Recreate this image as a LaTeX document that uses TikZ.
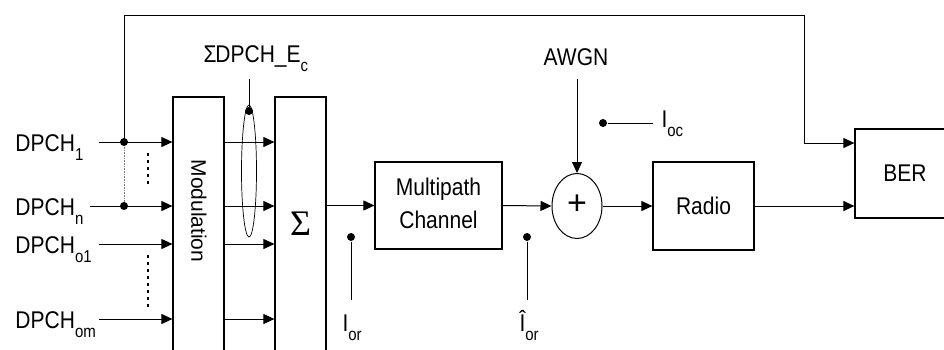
\documentclass[tikz,border=0pt]{standalone}
\usepackage{fontspec}
\setmainfont{Liberation Sans}
\newfontfamily\seriffont{Liberation Serif}
\usetikzlibrary{arrows.meta,shapes.geometric}
\newcommand\vs[1]{\scalebox{1}[1.15]{#1}}
\newcommand\lbl[2]{\vs{#1\raisebox{-8pt}{\fontsize{15}{15}\selectfont #2}}}
\begin{document}
\begin{tikzpicture}[x=1pt,y=-1pt, line width=1pt,
  box/.style={draw,line width=1.2pt,inner sep=0pt},
  arr/.style={-{Triangle[length=11pt,width=10pt]}},
  dot/.style={circle,fill,inner sep=0pt,minimum size=8pt},
  txt/.style={font=\fontsize{21}{25}\selectfont, inner sep=0pt},
  ]
\clip (0,0) rectangle (944,349);
\fill[white] (0,0) rectangle (944,349);

% blocks
\node[box, minimum width=51pt, minimum height=303pt] (mod) at (198.5,248.5) {};
\node[txt, rotate=-90] (modt) at (199,211) {Modulation};
\node[box, minimum width=51pt, minimum height=303pt] (sum) at (300.5,248.5) {};
\node[inner sep=0pt, font=\seriffont\fontsize{36}{36}\selectfont] (sigma) at (300.5,224) {Σ};
\node[box, minimum width=127pt, minimum height=87pt, font=\fontsize{21}{28.7}\selectfont] (mp) at (438.5,205.5)
  {\vs{\begin{tabular}{@{}c@{}}Multipath\\Channel\end{tabular}}};
\node[box, minimum width=101pt, minimum height=88pt, txt] (radio) at (703.5,206) {\vs{Radio}};
\node[box, minimum width=100pt, minimum height=89pt, txt] (ber) at (905,173.5) {\vs{BER}};
\node[draw, ellipse, minimum width=50pt, minimum height=65pt, inner sep=0pt] (circ) at (577,206) {};
\node[font=\fontsize{34}{34}\selectfont, inner sep=0pt] (plus) at (577,205) {+};

% input labels
\node[txt, anchor=base west] (l1) at (15,151) {\lbl{DPCH}{1}};
\node[txt, anchor=base west] (ln) at (15,215) {\lbl{DPCH}{n}};
\node[txt, anchor=base west] (lo1) at (15,253) {\lbl{DPCH}{o1}};
\node[txt, anchor=base west] (lom) at (15,328) {\lbl{DPCH}{om}};

\coordinate (in1) at (99,142);
\coordinate (inn) at (90,206);
\coordinate (ino1) at (99,244);
\coordinate (inom) at (99,319);

\foreach \c in {in1,inn,ino1,inom}{
  \draw[arr] (\c) -- (\c -| mod.west);
  \draw[arr] (mod.east |- \c) -- (sum.west |- \c);
}

% feedback
\coordinate (d1c) at (124,142);
\coordinate (fb1) at (124,15);
\coordinate (fb2) at (804,15);
\coordinate (fb3) at (804,143);
\draw[arr] (d1c) -- (fb1) -- (fb2) -- (fb3) -- (ber.west |- fb3);
\draw[gray, densely dotted, line width=0.6pt] (124,142) -- (124,206);
\node[dot] (d1) at (124,142) {};
\node[dot] (dn) at (124,206) {};

% vertical ellipsis
\coordinate (v1a) at (148,153); \coordinate (v1b) at (148,187);
\coordinate (v2a) at (148,255); \coordinate (v2b) at (148,308);
\draw[line width=1.3pt, dash pattern=on 3pt off 4pt] (v1a) -- (v1b);
\draw[line width=1.3pt, dash pattern=on 3pt off 4pt] (v2a) -- (v2b);

% sum of DPCH Ec
\node[draw, ellipse, minimum width=15pt, minimum height=132pt, inner sep=0pt, line width=0.7pt] (grp) at (249,171) {};
\node[dot] (gd) at (249,111) {};
\coordinate (gt) at (249,79);
\draw (gd) -- (gt);
\node[txt, anchor=base west] (sdpch) at (203,62)
  {\vs{Σ\kern-1pt DPCH\_E\raisebox{-8pt}{\fontsize{15}{15}\selectfont c}}};

% chain
\draw[arr] (sum.east |- mp.west) -- (mp.west);
\draw[arr] (mp.east) -- (circ.west);
\draw[arr] (circ.east) -- (radio.west);
\draw[arr] (radio.east) -- (ber.west |- radio.east);

% AWGN
\node[txt, anchor=base] (awgn) at (576,65) {\vs{AWGN}};
\coordinate (aw) at (577,79);
\draw[arr] (aw) -- (circ.north);

% Ioc
\node[dot] (ocd) at (603,123) {};
\coordinate (oce) at (653,123);
\draw (ocd) -- (oce);
\node[txt, anchor=base west] (ioc) at (661,127) {\lbl{I}{oc}};

% Ior
\node[dot] (ord) at (351,237) {};
\coordinate (ore) at (351,300);
\draw (ord) -- (ore);
\node[txt, anchor=base west] (ior) at (342,331) {\lbl{I}{or}};

\node[dot] (ohd) at (527,237) {};
\coordinate (ohe) at (527,300);
\draw (ohd) -- (ohe);
\node[txt, anchor=base west] (iorh) at (519,331) {\lbl{Î}{or}};
\end{tikzpicture}
\end{document}
